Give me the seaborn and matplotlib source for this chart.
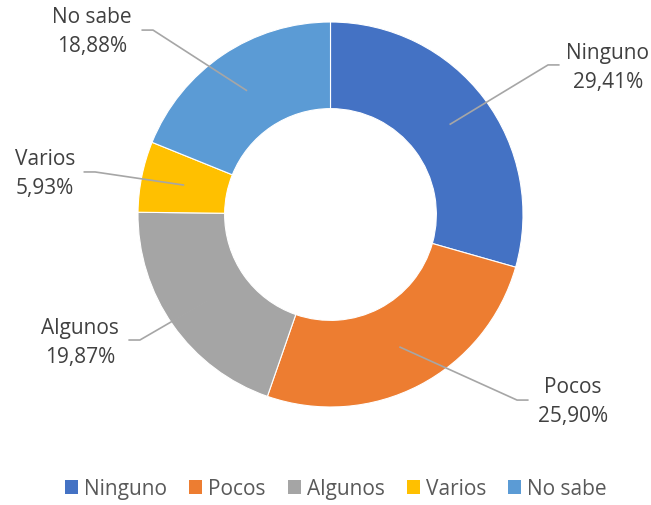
import numpy as np
import matplotlib
matplotlib.use("Agg")
import matplotlib.pyplot as plt
from matplotlib.patches import Patch
import seaborn as sns

# ---- data ----
categories = ["Ninguno", "Pocos", "Algunos", "Varios", "No sabe"]
values = [29.41, 25.90, 19.87, 5.93, 18.88]
value_labels = ["29,41%", "25,90%", "19,87%", "5,93%", "18,88%"]
colors = ["#4472C4", "#ED7D31", "#A5A5A5", "#FFC000", "#5B9BD5"]

sns.set_theme(style="white")
plt.rcParams["font.family"] = ["Open Sans", "DejaVu Sans"]

W, H = 651, 506
fig = plt.figure(figsize=(W / 100, H / 100), dpi=100)
ax = fig.add_axes([0, 0, 1, 1])

cx, cy, R = 330.5, 215.5, 192.5

palette = sns.color_palette(colors)
wedges, _ = ax.pie(values, colors=palette, startangle=90, counterclock=False,
                   radius=1.0, center=(0, 0), frame=True,
                   wedgeprops=dict(width=0.45, edgecolor="white", linewidth=0.8))
ax.set_xlim((0 - cx) / R, (W - cx) / R)
ax.set_ylim((cy - H) / R, (cy - 0) / R)
ax.set_aspect("auto")
ax.axis("off")

# label layout: elbow points and text centres (axes data units)
elbows = [(1.130, 0.777), (0.969, -0.964), (-0.990, -0.652), (-1.223, 0.221), (-0.922, 0.958)]
text_pos = [(1.440, 0.766), (1.260, -0.969), (-1.301, -0.662), (-1.483, 0.216), (-1.239, 0.953)]
stub = 0.06
line_color = "#A6A6A6"
text_color = "#404040"

for w, cat, lab, el, tp in zip(wedges, categories, value_labels, elbows, text_pos):
    ang = np.deg2rad((w.theta1 + w.theta2) / 2)
    r0 = 0.775
    x0, y0 = r0 * np.cos(ang), r0 * np.sin(ang)
    sgn = 1 if tp[0] > el[0] else -1
    xe = el[0] + sgn * stub
    ax.plot([x0, el[0], xe], [y0, el[1], el[1]], color=line_color, lw=1.2,
            solid_capstyle="butt", zorder=3)
    ax.text(tp[0], tp[1], f"{cat}\n{lab}", ha="center", va="center",
            fontsize=15, color=text_color, linespacing=1.45, zorder=4)

handles = [Patch(facecolor=c, edgecolor="none", label=cat) for c, cat in zip(palette, categories)]
leg = fig.legend(handles=handles, loc="center", bbox_to_anchor=(336 / W, 1 - 490 / H),
                 ncol=5, frameon=False, fontsize=15, handlelength=0.62, handleheight=0.62,
                 handletextpad=0.3, columnspacing=1.05, borderaxespad=0)
for t in leg.get_texts():
    t.set_color("#595959")

fig.savefig("out.png", dpi=100, facecolor="white")
